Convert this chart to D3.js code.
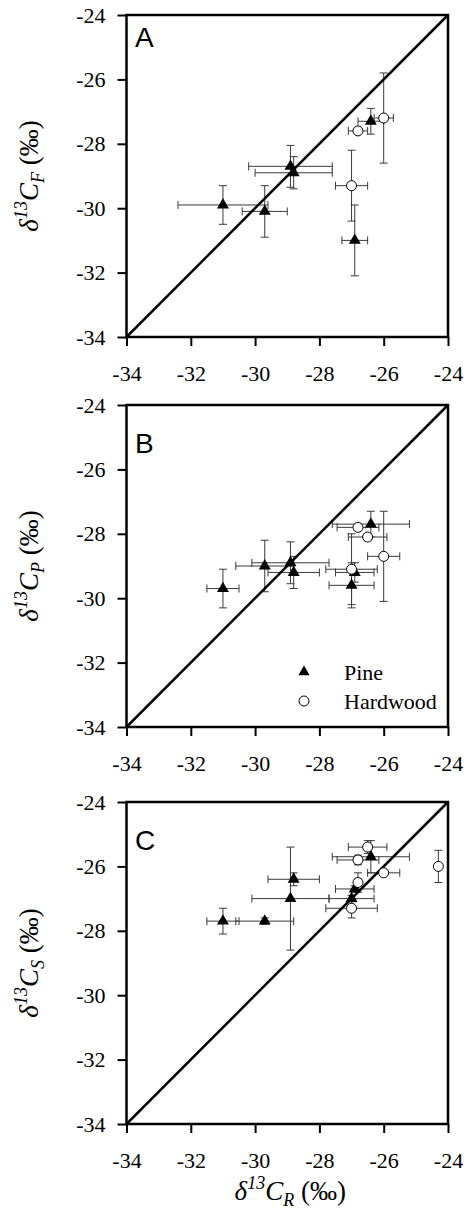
<!DOCTYPE html>
<html>
<head>
<meta charset="utf-8">
<script src="https://cdn.jsdelivr.net/npm/d3@7"></script>
<style>
  body { margin: 0; background: #fff; }
  svg { display: block; }
</style>
</head>
<body>
<div id="chart"></div>
<script>
// rows: [x (δ13C_R), xErr, y, yErr]
const pineA = [
  [-31.0, 1.4, -29.9, 0.6],
  [-29.7, 0.7, -30.1, 0.8],
  [-28.9, 1.3, -28.7, 0.65],
  [-28.8, 1.2, -28.9, 0.5],
  [-26.4, 0.4, -27.3, 0.4],
  [-26.9, 0.4, -31.0, 1.1]
]
const hardA = [
  [-26.0, 0.3, -27.2, 1.4],
  [-26.8, 0.3, -27.6, 0.1],
  [-27.0, 0.5, -29.3, 1.1]
]
const pineB = [
  [-31.0, 0.5, -29.7, 0.6],
  [-29.7, 0.9, -29.0, 0.8],
  [-28.9, 1.2, -28.9, 0.65],
  [-28.8, 0.8, -29.2, 0.5],
  [-26.4, 1.2, -27.7, 0.4],
  [-27.0, 0.7, -29.6, 0.7],
  [-26.9, 0.6, -29.2, 0.3]
]
const hardB = [
  [-26.8, 0.65, -27.8, 0.1],
  [-26.5, 0.6, -28.1, 0.1],
  [-26.0, 0.5, -28.7, 1.4],
  [-27.0, 0.8, -29.1, 1.1]
]
const pineC = [
  [-31.0, 0.5, -27.7, 0.4],
  [-29.7, 0.9, -27.7, 0.1],
  [-28.9, 1.2, -27.0, 1.6],
  [-28.8, 0.8, -26.4, 0.2],
  [-26.4, 1.2, -25.7, 0.5],
  [-27.0, 0.7, -27.0, 0.1],
  [-26.9, 0.6, -26.7, 0.1]
]
const hardC = [
  [-26.5, 0.6, -25.4, 0.2],
  [-26.8, 0.65, -25.8, 0.15],
  [-26.0, 0.5, -26.2, 0.1],
  [-26.8, 0.1, -26.5, 0.3],
  [-27.0, 0.8, -27.3, 0.3],
  [-24.3, 0, -26.0, 0.5]
]
const tickValues = [-34, -32, -30, -28, -26, -24]
const panelLetters = ['A', 'B', 'C']
const ySubscripts = ['F', 'P', 'S']
const legendLabels = ['Pine', 'Hardwood']

const width = 467
const height = 1218
const left = 126.5
const right = 448
const panelTops = [15, 405, 802]
const panelH = 322
const letterBaselines = [47, 452.5, 850]
const serif = '"Liberation Serif", "Times New Roman", serif'
const sans = '"Liberation Sans", Arial, sans-serif'
const barColor = '#3a3a3a'

const svg = d3.select('#chart')
  .append('svg')
  .attr('width', width)
  .attr('height', height)

const x = d3.scaleLinear().domain([-34, -24]).range([left, right])

const panels = [
  { pine: pineA, hard: hardA },
  { pine: pineB, hard: hardB, legend: true },
  { pine: pineC, hard: hardC }
]

function axisLabel(sel, sub) {
  sel.append('tspan').style('font-style', 'italic').text('δ')
  sel.append('tspan').style('font-style', 'italic').style('font-size', '18px').attr('dy', -11).text('13')
  sel.append('tspan').style('font-style', 'italic').attr('dy', 11).text('C')
  sel.append('tspan').style('font-style', 'italic').style('font-size', '18px').attr('dy', 6).text(sub)
  sel.append('tspan').attr('dy', -6).text(' (‰)')
}

panels.forEach((p, i) => {
  const top = panelTops[i]
  const y = d3.scaleLinear().domain([-34, -24]).range([top + panelH, top])
  const g = svg.append('g')
  const fmt = d => String(d)

  // axes
  const xAxis = g.append('g')
    .attr('transform', `translate(0,${top + panelH})`)
    .call(d3.axisBottom(x).tickValues(tickValues).tickFormat(fmt)
      .tickSize(9).tickPadding(19).tickSizeOuter(0))
  const yAxis = g.append('g')
    .attr('transform', `translate(${left},0)`)
    .call(d3.axisLeft(y).tickValues(tickValues).tickFormat(fmt)
      .tickSize(9).tickPadding(12).tickSizeOuter(0))
  ;[xAxis, yAxis].forEach(a => {
    a.attr('font-family', serif).attr('font-size', 22)
    a.select('.domain').remove()
    a.selectAll('line').attr('stroke', '#000').attr('stroke-width', 2)
    a.selectAll('text').attr('fill', '#000')
  })

  // error bars
  const capW = 4
  const all = p.pine.concat(p.hard)
  const bars = g.append('g')
    .attr('stroke', barColor)
    .attr('stroke-width', 1)
    .attr('fill', 'none')
  all.forEach(d => {
    const [vx, xe, vy, ye] = d
    const cx = x(vx)
    const cy = y(vy)
    if (xe > 0) {
      const x0 = x(vx - xe)
      const x1 = x(vx + xe)
      bars.append('path')
        .attr('d', `M${x0},${cy}H${x1}M${x0},${cy - capW}V${cy + capW}M${x1},${cy - capW}V${cy + capW}`)
    }
    if (ye > 0) {
      const y0 = y(vy - ye)
      const y1 = y(vy + ye)
      bars.append('path')
        .attr('d', `M${cx},${y0}V${y1}M${cx - capW},${y0}H${cx + capW}M${cx - capW},${y1}H${cx + capW}`)
    }
  })

  // 1:1 line
  g.append('line')
    .attr('x1', x(-34)).attr('y1', y(-34))
    .attr('x2', x(-24)).attr('y2', y(-24))
    .attr('stroke', '#000')
    .attr('stroke-width', 2.5)

  // frame
  g.append('rect')
    .attr('x', left).attr('y', top)
    .attr('width', right - left).attr('height', panelH)
    .attr('fill', 'none')
    .attr('stroke', '#000')
    .attr('stroke-width', 2.5)

  // markers
  const tri = d3.symbol().type(d3.symbolTriangle).size(62)
  g.selectAll('.pine')
    .data(p.pine)
    .enter()
    .append('path')
    .attr('class', 'pine')
    .attr('d', tri)
    .attr('transform', d => `translate(${x(d[0])},${y(d[2])})`)
    .attr('fill', '#000')
  g.selectAll('.hard')
    .data(p.hard)
    .enter()
    .append('circle')
    .attr('class', 'hard')
    .attr('cx', d => x(d[0]))
    .attr('cy', d => y(d[2]))
    .attr('r', 5)
    .attr('fill', '#fff')
    .attr('stroke', '#000')
    .attr('stroke-width', 1)

  // panel letter
  g.append('text')
    .attr('x', 135)
    .attr('y', letterBaselines[i])
    .style('font-family', sans)
    .style('font-size', '28px')
    .text(panelLetters[i])

  // y label
  const yl = g.append('text')
    .attr('transform', `translate(38,${top + panelH / 2}) rotate(-90)`)
    .attr('text-anchor', 'middle')
    .style('font-family', serif)
    .style('font-size', '27px')
  axisLabel(yl, ySubscripts[i])

  // legend
  if (p.legend) {
    const lg = g.append('g').attr('transform', `translate(304,${top + 267})`)
    lg.append('path').attr('d', d3.symbol().type(d3.symbolTriangle).size(55)()).attr('fill', '#000')
    lg.append('circle').attr('cx', 0).attr('cy', 29).attr('r', 5)
      .attr('fill', '#fff').attr('stroke', '#000').attr('stroke-width', 1)
    legendLabels.forEach((t, k) => {
      lg.append('text')
        .attr('x', 40)
        .attr('y', k * 29 + 8)
        .style('font-family', serif)
        .style('font-size', '22px')
        .text(t)
    })
  }
})

// x label
const xl = svg.append('text')
  .attr('x', (left + right) / 2 + 3)
  .attr('y', 1200)
  .attr('text-anchor', 'middle')
  .style('font-family', serif)
  .style('font-size', '27px')
axisLabel(xl, 'R')
</script>
</body>
</html>
